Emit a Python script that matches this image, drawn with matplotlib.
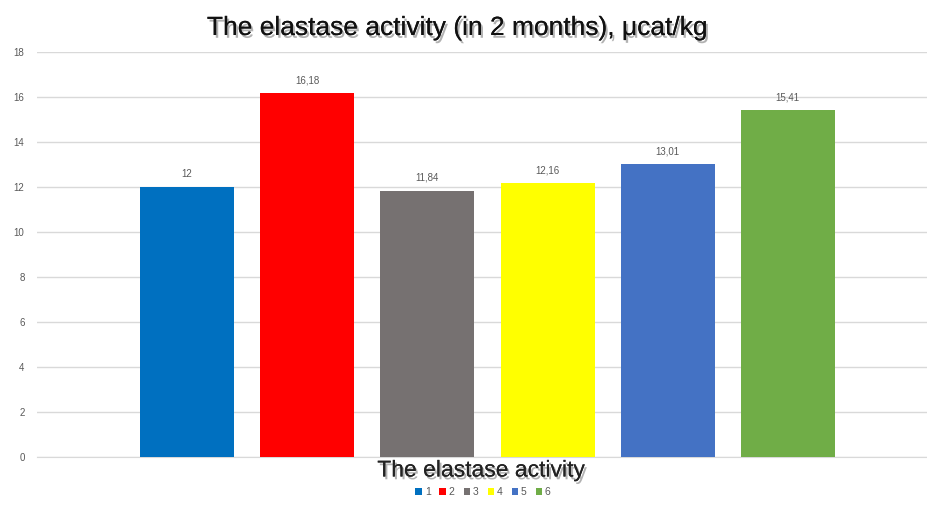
import matplotlib
matplotlib.use("Agg")
import matplotlib.pyplot as plt
import matplotlib.patheffects as pe

series = ["1", "2", "3", "4", "5", "6"]
values = [12, 16.18, 11.84, 12.16, 13.01, 15.41]
labels = ["12", "16,18", "11,84", "12,16", "13,01", "15,41"]
colors = ["#0070C0", "#FF0000", "#767171", "#FFFF00", "#4472C4", "#70AD47"]
yticks = [0, 2, 4, 6, 8, 10, 12, 14, 16, 18]

plt.rcParams['font.family'] = ['Liberation Sans', 'DejaVu Sans']

fig = plt.figure(figsize=(9.27, 5.05), dpi=100)
ax = fig.add_axes([37/927, 1-457/505, 890/927, (457-52)/505])

x = list(range(len(series)))
bars = ax.bar(x, values, width=94/120, color=colors, label=series, zorder=3)
for xi, v, lab in zip(x, values, labels):
    ax.annotate(lab, (xi, v), xytext=(0, 5.5), textcoords='offset points',
                ha='center', va='bottom', fontsize=7, color='#595959')

ax.set_xlim(-1.25, 5 + (927-788)/120)
ax.set_ylim(0, 18)
ax.set_yticks(yticks)
ax.set_yticklabels([str(t) for t in yticks], fontsize=7, color='#595959')
ax.tick_params(axis='y', length=0, pad=9)
ax.set_xticks([])
ax.grid(axis='y', color='#D9D9D9', linewidth=1, zorder=0)
for s in ['top', 'right', 'left']:
    ax.spines[s].set_visible(False)
ax.spines['bottom'].set_color('#D9D9D9')

shadow = [pe.withSimplePatchShadow(offset=(1.5, -2), shadow_rgbFace='#555555', alpha=0.45), pe.Normal()]
fig.text(458/927, 1-28/505, "The elastase activity (in 2 months), \u03bccat/kg",
         ha='center', va='center', fontsize=19, color='#111111', path_effects=shadow)
fig.text(481/927, 1-470/505, "The elastase activity", ha='center', va='center',
         fontsize=16.5, color='#222222', path_effects=shadow)

leg = fig.legend(handles=bars, labels=series, loc='center', bbox_to_anchor=(483/927, 1-492/505),
                 ncol=6, frameon=False, fontsize=7.5, handlelength=0.6, handleheight=0.6,
                 handletextpad=0.3, columnspacing=0.85, labelcolor='#595959')

fig.savefig("out.png", dpi=100)
